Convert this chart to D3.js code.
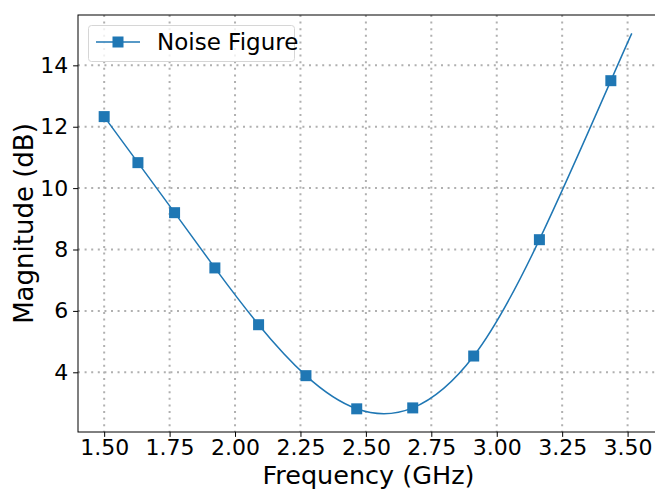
<!DOCTYPE html>
<html>
<head>
<meta charset="utf-8">
<script src="https://cdn.jsdelivr.net/npm/d3@7"></script>
<style>
  body { margin: 0; background: #fff; }
  text { font-family: "DejaVu Sans", sans-serif; fill: #000; }
</style>
</head>
<body>
<div id="myPlot" style="width:655px;height:491px"></div>
<script>
// marker points
const frequency = [1.50, 1.629, 1.769, 1.923, 2.090, 2.271, 2.465, 2.679, 2.912, 3.163, 3.436]
const noiseFigure = [12.33, 10.83, 9.20, 7.40, 5.55, 3.89, 2.81, 2.84, 4.53, 8.32, 13.50]
// where the fitted curve stops
const curveEndFreq = 3.516
const curveEndNf = 15.04

const xTicks = [1.50, 1.75, 2.00, 2.25, 2.50, 2.75, 3.00, 3.25, 3.50]
const yTicks = [4, 6, 8, 10, 12, 14]
const seriesName = "Noise Figure"

const blue = "#1f77b4"
const margin = {top: 15, left: 78}
const width = 581
const height = 417

const svg = d3.select("#myPlot").append("svg")
    .attr("width", 655)
    .attr("height", 491)

const g = svg.append("g")
    .attr("transform", `translate(${margin.left}, ${margin.top})`)

const xScale = d3.scaleLinear().domain([1.4, 3.62]).range([0, width])
const yScale = d3.scaleLinear().domain([2.055, 15.64]).range([height, 0])

// dotted grid
const gridStyle = sel => sel
    .attr("stroke", "#b0b0b0")
    .attr("stroke-width", 2)
    .attr("stroke-dasharray", "2,4.6")

g.append("g").selectAll("line")
    .data(xTicks)
    .enter().append("line")
    .attr("x1", d => xScale(d)).attr("x2", d => xScale(d))
    .attr("y1", 0).attr("y2", height)
    .call(gridStyle)

g.append("g").selectAll("line")
    .data(yTicks)
    .enter().append("line")
    .attr("x1", 0).attr("x2", width)
    .attr("y1", d => yScale(d)).attr("y2", d => yScale(d))
    .call(gridStyle)

// axes
const xAxis = d3.axisBottom(xScale)
    .tickValues(xTicks)
    .tickFormat(d3.format(".2f"))
    .tickSize(4.9)
    .tickPadding(2.2)

const yAxis = d3.axisLeft(yScale)
    .tickValues(yTicks)
    .tickFormat(d3.format("d"))
    .tickSize(4.9)
    .tickPadding(4.9)

const xAxisG = g.append("g")
    .attr("transform", `translate(0, ${height})`)
    .call(xAxis)

const yAxisG = g.append("g").call(yAxis)

for (const axisG of [xAxisG, yAxisG]) {
    axisG.select(".domain").remove()
    axisG.selectAll("line").attr("stroke", "#000").attr("stroke-width", 1)
    axisG.selectAll("text")
        .style("font-family", "DejaVu Sans")
        .style("font-size", "22px")
        .attr("fill", "#000")
}

// spines
g.append("rect")
    .attr("x", 0).attr("y", 0)
    .attr("width", width).attr("height", height)
    .attr("fill", "none")
    .attr("stroke", "#000")
    .attr("stroke-width", 1)

// curve and markers
const points = frequency.map((f, i) => [f, noiseFigure[i]])
const curvePoints = points.concat([[curveEndFreq, curveEndNf]])

const line = d3.line()
    .x(d => xScale(d[0]))
    .y(d => yScale(d[1]))
    .curve(d3.curveNatural)

g.append("path")
    .datum(curvePoints)
    .attr("d", line)
    .attr("fill", "none")
    .attr("stroke", blue)
    .attr("stroke-width", 1.5)

const markerSize = 11
g.append("g").selectAll("rect")
    .data(points)
    .enter().append("rect")
    .attr("x", d => xScale(d[0]) - markerSize / 2)
    .attr("y", d => yScale(d[1]) - markerSize / 2)
    .attr("width", markerSize)
    .attr("height", markerSize)
    .attr("fill", blue)

// axis labels
svg.append("text")
    .attr("x", margin.left + width / 2)
    .attr("y", 484)
    .attr("text-anchor", "middle")
    .style("font-size", "25.5px")
    .text("Frequency (GHz)")

svg.append("text")
    .attr("transform", `translate(33, ${margin.top + height / 2}) rotate(-90)`)
    .attr("text-anchor", "middle")
    .style("font-size", "26px")
    .text("Magnitude (dB)")

// legend
const legend = svg.append("g")
legend.append("rect")
    .attr("x", 88.5).attr("y", 25.5)
    .attr("width", 206).attr("height", 36)
    .attr("rx", 3)
    .attr("fill", "#fff")
    .attr("fill-opacity", 0.8)
    .attr("stroke", "#d6d6d6")
legend.append("line")
    .attr("x1", 96).attr("x2", 140)
    .attr("y1", 42).attr("y2", 42)
    .attr("stroke", blue)
    .attr("stroke-width", 1.5)
legend.append("rect")
    .attr("x", 118 - markerSize / 2).attr("y", 42 - markerSize / 2)
    .attr("width", markerSize).attr("height", markerSize)
    .attr("fill", blue)
legend.append("text")
    .attr("x", 157)
    .attr("y", 50)
    .style("font-size", "23px")
    .text(seriesName)
</script>
</body>
</html>
